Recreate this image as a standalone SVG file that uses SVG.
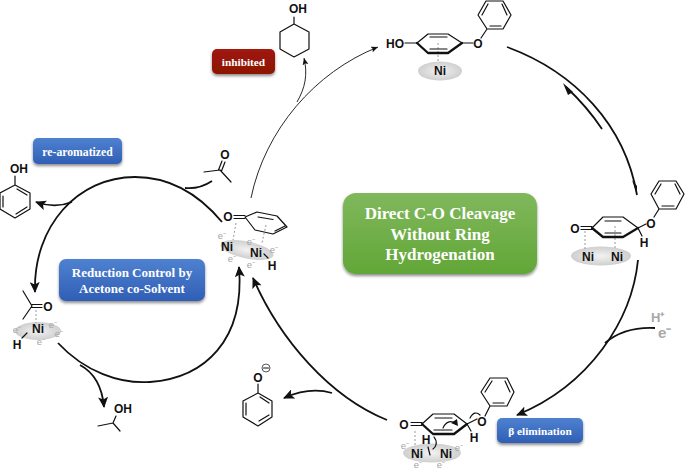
<svg xmlns="http://www.w3.org/2000/svg" width="685" height="468" viewBox="0 0 685 468">
<style>
text{font-family:"Liberation Sans",Arial,sans-serif}
.a{font-size:12px;font-weight:700;fill:#111;text-anchor:middle}
.e{font-size:9.500px;fill:#a4a4a4;text-anchor:middle}
.l{font-family:"Liberation Serif","Times New Roman",serif;font-weight:700;fill:#fff;text-anchor:middle}
.b{fill:none;stroke:#111;stroke-width:1.2;stroke-linecap:round;stroke-linejoin:round}
.w{fill:none;stroke:#111;stroke-width:2.3;stroke-linecap:round;stroke-linejoin:round}
.d{fill:none;stroke:#999;stroke-width:1;stroke-dasharray:2 2}
.c{fill:none;stroke:#111;stroke-width:1.8}
.t{fill:none;stroke:#111;stroke-width:.9}
</style>
<defs>
<marker id="h" markerWidth="12" markerHeight="10" refX="10" refY="5" orient="auto" markerUnits="userSpaceOnUse"><path d="M0,0 L11,5 L0,10 L2.5,5Z" fill="#111"/></marker>
<marker id="s" markerWidth="8" markerHeight="6" refX="7" refY="3" orient="auto" markerUnits="userSpaceOnUse"><path d="M0,0 L7,3 L0,6 L1.500,3Z" fill="#111"/></marker>
<linearGradient id="gb" x1="0" y1="0" x2="0" y2="1"><stop offset="0" stop-color="#4f81d0"/><stop offset="1" stop-color="#2f5fb5"/></linearGradient>
<linearGradient id="gg" x1="0" y1="0" x2="0" y2="1"><stop offset="0" stop-color="#80b85c"/><stop offset="1" stop-color="#62a637"/></linearGradient>
<linearGradient id="gr" x1="0" y1="0" x2="0" y2="1"><stop offset="0" stop-color="#a01a0a"/><stop offset="1" stop-color="#8c1404"/></linearGradient>
<radialGradient id="ni"><stop offset="0" stop-color="#f2f2f2"/><stop offset="1" stop-color="#cfcfcf"/></radialGradient>
<filter id="sh" x="-10%" y="-15%" width="120%" height="135%"><feDropShadow dx="0" dy="2" stdDeviation="1.500" flood-color="#000" flood-opacity=".45"/></filter>
</defs>

<g id="connectors">
<path class="c" d="M222,222 C197,192 167,177 135,177 C78,177 33,226 35,292" marker-end="url(#h)"/>
<path class="c" d="M212,181 C203,187 195,189 185,188"/>
<path class="c" d="M72,202 C62,206 50,207 36,202" marker-end="url(#h)"/>
<path class="c" d="M58,343 C85,372 120,384 150,382 C205,378 245,340 239,267" marker-end="url(#h)"/>
<path class="c" d="M80,365 C93,372 102,385 104,407" marker-end="url(#h)"/>
<path class="c" d="M387,420 C330,397 280,340 253,278" marker-end="url(#h)"/>
<path class="c" d="M332,393 C318,389 302,390 284,398" marker-end="url(#h)"/>
<path class="t" d="M251,198 C265,130 315,72 378,47" marker-end="url(#s)"/>
<path class="t" d="M297,102 C305,88 308,75 304,58" marker-end="url(#s)"/>
<path class="c" d="M507,47 C575,72 625,125 637,195"/>
<path d="M637,195 L632,180 L637,186Z" fill="#111"/>
<path class="c" d="M602,129 C592,114 580,100 566,87"/>
<path d="M563,83 L573,92 L568,95Z" fill="#111"/>
<path class="c" d="M638,260 C632,320 590,385 517,415" marker-end="url(#h)"/>
<path class="c" d="M655,328 C635,327 618,332 605,343"/>
</g>

<g id="label-direct">
<rect x="343" y="193" width="194" height="81" rx="13" fill="url(#gg)" filter="url(#sh)"/>
<text class="l" x="440" y="219" font-size="17">Direct C-O Cleavage</text>
<text class="l" x="440" y="240" font-size="17">Without Ring</text>
<text class="l" x="440" y="260" font-size="17">Hydrogenation</text>
</g>
<g id="label-reduction">
<rect x="59" y="259" width="146" height="42" rx="7" fill="url(#gb)" filter="url(#sh)"/>
<text class="l" x="132" y="277" font-size="13">Reduction Control by</text>
<text class="l" x="132" y="293" font-size="13">Acetone co-Solvent</text>
</g>
<g id="label-rearomatized">
<rect x="33" y="138" width="89" height="26" rx="5" fill="url(#gb)" filter="url(#sh)"/>
<text class="l" x="77.500" y="156" font-size="11.700">re-aromatized</text>
</g>
<g id="label-inhibited">
<rect x="212" y="49" width="63" height="25" rx="5" fill="url(#gr)" filter="url(#sh)"/>
<text class="l" x="243.500" y="66" font-size="11.300">inhibited</text>
</g>
<g id="label-beta">
<rect x="497" y="418" width="86" height="25" rx="5" fill="url(#gb)" filter="url(#sh)"/>
<text class="l" x="540" y="435" font-size="11.300">β elimination</text>
</g>

<g id="cyclohexanol">
<text class="a" x="298" y="13">OH</text>
<path class="b" d="M294,17 V24 M294,24 L309,32 V49 L294,57 L280,49 V32Z"/>
</g>

<g id="substrate-ni">
<ellipse cx="440" cy="71" rx="22" ry="9.500" fill="url(#ni)"/>
<text class="a" x="440" y="75">Ni</text>
<path class="d" d="M438,43 V63"/>
<text class="a" x="395" y="48">HO</text>
<path class="b" d="M405,43 H417"/>
<path class="b" d="M417,43 L428,34 H448 L462,43"/>
<path class="w" d="M417,43 L428,53 H448 L462,43"/>
<path class="b" d="M430,37 H447 M430,49 H447"/>
<path class="b" d="M462,43 H473"/>
<text class="a" x="478" y="48">O</text>
<path class="b" d="M481,38 L487,29 H503 L511,15 L503,1 H486 L478,15 L487,29 M490,26 H501 M482,15 L488,4 M502,4 L507,15"/>
</g>

<g id="dienone-ni2">
<ellipse cx="601" cy="256" rx="30" ry="9.500" fill="url(#ni)"/>
<text class="a" x="588" y="261">Ni</text>
<text class="a" x="617" y="261">Ni</text>
<path class="d" d="M585,231 V249 M615,226 V248"/>
<text class="a" x="575" y="233">O</text>
<path class="b" d="M581,226.500 H592 M581,229.500 H592"/>
<path class="b" d="M592,228 L603,217 H623 L638,228"/>
<path class="w" d="M592,228 L603,237 H623 L638,228"/>
<path class="b" d="M605,221 H621 M605,233 H621"/>
<path class="b" d="M638,228 L646,224 M638,228 L642,236"/>
<text class="a" x="651" y="228">O</text>
<text class="a" x="644" y="247">H</text>
<path class="b" d="M654,217 L659,209 H676 L684,194 L676,181 H659 L651,194 L659,209 M662,206 H674 M655,194 L661,184 M675,184 L680,194"/>
</g>

<g id="hydride-ni2">
<ellipse cx="432" cy="453" rx="29" ry="9.500" fill="url(#ni)"/>
<text class="a" x="417" y="458">Ni</text>
<text class="a" x="446" y="458">Ni</text>
<text class="e" x="405" y="449">e⁻</text><text class="e" x="418" y="467.500">e⁻</text><text class="e" x="441" y="467.500">e⁻</text><text class="e" x="459" y="451">e⁻</text>
<path class="d" d="M415,431 V447"/>
<text class="a" x="404" y="429">O</text>
<path class="b" d="M411,422.500 H422 M411,425.500 H422"/>
<path class="b" d="M422,424 L433,414 H454 L467,424"/>
<path class="w" d="M422,424 L433,434 H454 L467,424"/>
<path class="b" d="M435,418 H452 M434,430 H452"/>
<path class="b" d="M467,424 L477,419 M467,424 L471,431"/>
<text class="a" x="482" y="426">O</text>
<text class="a" x="474" y="442">H</text>
<text class="a" x="426" y="444">H</text>
<path class="b" d="M428,447 L430,455 M434,437 C438,442 436,447 433,449"/>
<path class="b" d="M443,428 C446,421 452,420 456,424 M470,418 C473,412 477,412 480,415"/>
<path d="M458,426 L451,423 L457,419Z" fill="#111"/>
<path class="b" d="M485,416 L490,406 H507 L514,392 L507,378 H490 L481,392 L490,406 M493,403 H504 M485,392 L492,381 M505,381 L510,392"/>
</g>

<g id="phenone-ni2">
<ellipse cx="247" cy="250" rx="27" ry="8.500" transform="rotate(12 247 250)" fill="url(#ni)"/>
<text class="a" x="227" y="251">Ni</text>
<text class="a" x="256" y="257">Ni</text>
<text class="e" x="222" y="239">e⁻</text><text class="e" x="232" y="262">e⁻</text><text class="e" x="251" y="245">e⁻</text><text class="e" x="251" y="268">e⁻</text><text class="e" x="274" y="253">e⁻</text>
<text class="a" x="228" y="221">O</text>
<path class="b" d="M234,215.500 H245 M234,218.500 H245"/>
<path class="b" d="M245,217 L257,212 L277,216 L287,227 L273,234 L255,230Z M258,217 L273,219.500 M275,231 L285,226"/>
<path class="d" d="M236,223 L233,240 M266,225 L262,243"/>
<path class="b" d="M264,254 L268,258"/>
<text class="a" x="272" y="270">H</text>
</g>

<g id="phenol">
<text class="a" x="19" y="173">OH</text>
<path class="b" d="M15,176 V185 L30,193 V209 L15,218 L0,209 V193 L15,185 M17,189 L27,195 M3,196 V207 M27,207 L16,214"/>
</g>

<g id="acetone">
<text class="a" x="225" y="159">O</text>
<path class="b" d="M218.500,170 L222,161 M221.500,171 L225,162 M204,172 L220,170 L231,182"/>
</g>

<g id="acetone-ni">
<ellipse cx="38" cy="331" rx="23" ry="9" fill="url(#ni)"/>
<text class="a" x="38" y="333">Ni</text>
<text class="e" x="17" y="333">e⁻</text><text class="e" x="53" y="328">e⁻</text><text class="e" x="41" y="345">e⁻</text><text class="e" x="59" y="337">e⁻</text>
<text class="a" x="48" y="311">O</text>
<path class="b" d="M32,304.500 H42 M32,307.500 H42 M23,291 L32,306 L23,319"/>
<path class="d" d="M36,310 V323"/>
<path class="b" d="M22,338 L27,333"/>
<text class="a" x="17" y="349">H</text>
</g>

<g id="isopropanol">
<text class="a" x="123" y="413">OH</text>
<path class="b" d="M116,416 L113,423 L98,426 M113,423 L120,431"/>
</g>

<g id="phenoxide">
<text class="a" x="258" y="382">O</text>
<circle cx="266" cy="368" r="4" fill="none" stroke="#111" stroke-width=".7"/>
<path class="b" d="M263.500,368 H268.500"/>
<path class="b" d="M258,384 V393 L272,401 V417 L258,426 L243,417 V401 L258,393 M260,397 L269,403 M246,403 V415 M269,415 L259,421"/>
</g>

<g id="electrons">
<text x="651" y="322" font-size="13" font-weight="700" fill="#a8a8a8">H⁺</text>
<text x="658" y="338" font-size="15" font-weight="700" fill="#a8a8a8">e⁻</text>
</g>
</svg>
